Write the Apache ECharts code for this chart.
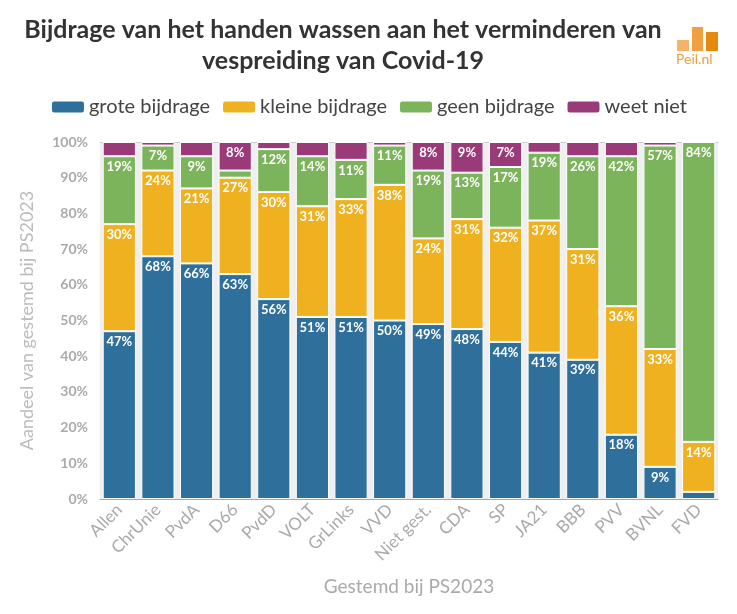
<!DOCTYPE html>
<html>
<head>
<meta charset="utf-8">
<script src="https://cdn.jsdelivr.net/npm/echarts@6/dist/echarts.min.js"></script>
<style>html,body{margin:0;padding:0;background:#fff}#c{width:737px;height:614px}</style>
</head>
<body>
<div id="c"></div>
<script>
const categories = ['Allen','ChrUnie','PvdA','D66','PvdD','VOLT','GrLinks','VVD','Niet gest.','CDA','SP','JA21','BBB','PVV','BVNL','FVD'];
const groteBijdrage  = [47, 68, 66, 63, 56, 51, 51, 50, 49, 47.6, 44, 41, 39, 18, 9, 2];
const kleineBijdrage = [30, 24, 21, 27, 30, 31, 33, 38, 24, 30.8, 32, 37, 31, 36, 33, 14];
const geenBijdrage   = [19, 7, 9, 2, 12, 14, 11, 11, 19, 13, 17, 19, 26, 42, 57, 84];
const weetNiet       = [4, 1, 4, 8, 2, 4, 5, 1, 8, 8.6, 7, 3, 4, 4, 1, 0];
const seriesNames = ['grote bijdrage','kleine bijdrage','geen bijdrage','weet niet'];
const yTicks = [0,10,20,30,40,50,60,70,80,90,100];

const FONT = 'Lato';
const colors = ['#2f6f9b','#efb11f','#7cb45b','#9a3a78'];
const chart = echarts.init(document.getElementById('c'));
const mk = (name, data, i) => ({
  name, type: 'bar', stack: 'a', data, barCategoryGap: '14%',
  itemStyle: { color: colors[i], borderColor: '#fff', borderWidth: 1 },
  label: {
    show: true, position: 'insideTop', distance: 4, color: '#fff', fontWeight: 'bold', fontSize: 13, fontFamily: FONT,
    formatter: p => p.value >= 6 ? Math.round(p.value) + '%' : ''
  }
});
chart.setOption({
  animation: false,
  textStyle: { fontFamily: FONT },
  title: {
    text: 'Bijdrage van het handen wassen aan het verminderen van\nvespreiding van Covid-19',
    left: 338, textAlign: 'center', top: 9,
    textStyle: { fontSize: 25, fontWeight: 'bold', color: '#333', lineHeight: 31, fontFamily: FONT }
  },
  legend: {
    top: 92, left: 'center', itemWidth: 34, itemHeight: 13, itemGap: 11, icon: 'roundRect',
    textStyle: { fontSize: 20, color: '#444', fontFamily: FONT, padding: [0, 0, 0, -1] },
    data: seriesNames
  },
  graphic: [
    { type: 'rect', left: 677, top: 40, shape: { width: 12, height: 11 }, style: { fill: '#f5b26b' } },
    { type: 'rect', left: 692, top: 27, shape: { width: 11, height: 24 }, style: { fill: '#f0a040' } },
    { type: 'rect', left: 706, top: 32, shape: { width: 12, height: 19 }, style: { fill: '#e8890f' } },
    { type: 'text', left: 676, top: 52, style: { text: 'Peil.nl', fill: '#eda040', fontSize: 14, fontFamily: FONT } }
  ],
  grid: { left: 100, right: 19, top: 142, bottom: 115, show: true, backgroundColor: '#efefef', borderWidth: 0 },
  xAxis: [{
    type: 'category', data: categories,
    name: 'Gestemd bij PS2023', nameLocation: 'middle', nameGap: 78,
    nameTextStyle: { fontSize: 19, color: '#aaa', fontFamily: FONT },
    axisLine: { lineStyle: { color: '#aaa' } }, axisTick: { show: false },
    axisLabel: { rotate: 45, fontSize: 17, color: '#aaa', margin: 8, interval: 0, fontFamily: FONT }
  }, {
    type: 'category', data: categories, position: 'top',
    axisLine: { lineStyle: { color: '#ccc' } }, axisTick: { show: false }, axisLabel: { show: false }
  }],
  yAxis: {
    type: 'value', min: yTicks[0], max: yTicks[yTicks.length - 1], interval: 10,
    name: 'Aandeel van gestemd bij PS2023', nameLocation: 'middle', nameGap: 64,
    nameTextStyle: { fontSize: 18, color: '#bbb', fontFamily: FONT },
    axisLabel: { formatter: '{value}%', fontSize: 14, fontWeight: 'bold', color: '#aaa', fontFamily: FONT, margin: 12 },
    axisLine: { show: false }, axisTick: { show: false }, splitLine: { show: false }
  },
  series: [
    mk(seriesNames[0], groteBijdrage, 0),
    mk(seriesNames[1], kleineBijdrage, 1),
    mk(seriesNames[2], geenBijdrage, 2),
    mk(seriesNames[3], weetNiet, 3)
  ]
});
</script>
</body>
</html>
